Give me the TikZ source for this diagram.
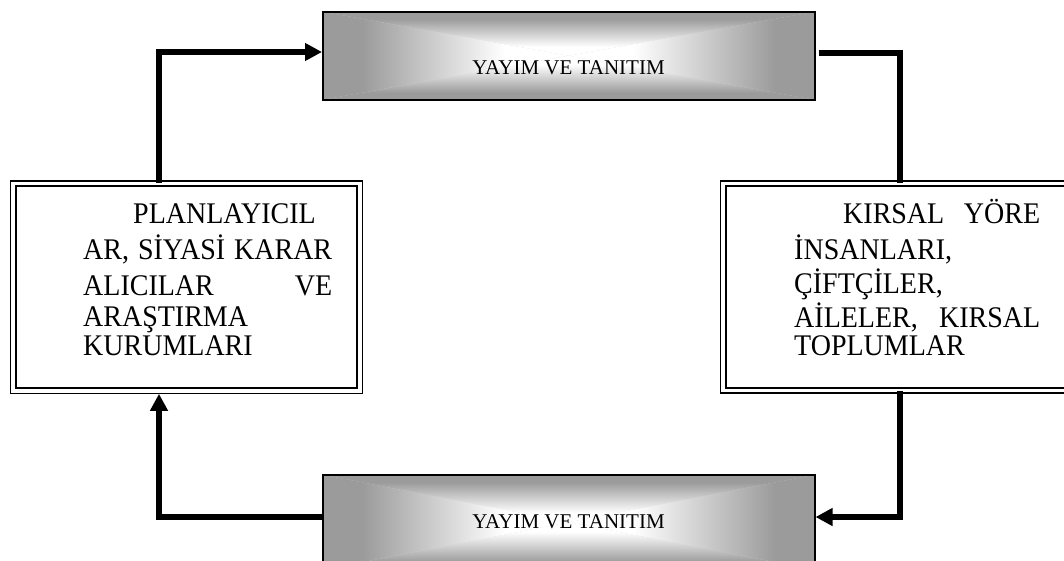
\documentclass[tikz,border=0pt]{standalone}
\usepackage{fontspec}
\setmainfont{Liberation Serif}
\usetikzlibrary{arrows.meta}
\definecolor{boxgray}{RGB}{155,155,155}
\pgfdeclarehorizontalshading{gl}{100bp}{color(0bp)=(boxgray); color(25bp)=(boxgray); color(33bp)=(boxgray); color(62bp)=(white); color(100bp)=(white)}
\pgfdeclarehorizontalshading{gr}{100bp}{color(0bp)=(white); color(38bp)=(white); color(67bp)=(boxgray); color(75bp)=(boxgray); color(100bp)=(boxgray)}
\pgfdeclareverticalshading{gt}{100bp}{color(0bp)=(white); color(35bp)=(white); color(67bp)=(boxgray); color(75bp)=(boxgray); color(100bp)=(boxgray)}
\pgfdeclareverticalshading{gb}{100bp}{color(0bp)=(boxgray); color(25bp)=(boxgray); color(33bp)=(boxgray); color(65bp)=(white); color(100bp)=(white)}
\newcommand{\vstretch}[1]{\scalebox{1}[1.07]{#1}}
\begin{document}
\begin{tikzpicture}[x=1pt,y=-1pt,
  conn/.style={line width=5.5pt, line join=miter},
  arr/.style={conn, -{Triangle[length=17pt,width=17pt]}},
  gbox/.style={draw, line width=1.5pt, inner sep=0pt, anchor=north west,
    path picture={
      \coordinate (pnw) at (path picture bounding box.north west);
      \coordinate (pne) at (path picture bounding box.north east);
      \coordinate (psw) at (path picture bounding box.south west);
      \coordinate (pse) at (path picture bounding box.south east);
      \coordinate (pc) at (path picture bounding box.center);
      \fill[boxgray!45!white] (pnw) rectangle (pse);
      \shade[shading=gt] (pnw) -- (pne) -- (pc) -- cycle;
      \shade[shading=gb] (psw) -- (pse) -- (pc) -- cycle;
      \shade[shading=gl] (pnw) -- (psw) -- (pc) -- cycle;
      \shade[shading=gr] (pne) -- (pse) -- (pc) -- cycle;
    }},
  dbox/.style={draw, line width=1.8pt, double, double distance=3.5pt, inner sep=0pt, anchor=north west, fill=white},
  yt/.style={font=\fontsize{21}{24}\selectfont, inner sep=0pt, anchor=base},
  bt/.style={font=\fontsize{28}{30}\selectfont, inner sep=0pt, anchor=base west}]
\useasboundingbox (0,0) rectangle (1064,560);
\clip (0,0) rectangle (1064,560);

% boxes
\node[gbox, minimum width=492pt, minimum height=88pt] (T) at (322,11) {};
\node[gbox, minimum width=492pt, minimum height=95pt] (B) at (322,474) {};
\node[dbox, minimum width=346.8pt, minimum height=207.5pt] (L) at (12.2,182.5) {};
\node[dbox, minimum width=360pt, minimum height=207pt] (R) at (722.3,182.5) {};

% texts
\node[yt] (Tt) at (568.5,74) {YAYIM VE TANITIM};
\node[yt] (Bt) at (568.5,528) {YAYIM VE TANITIM};

\node[bt] (L1) at (133,223) {\vstretch{PLANLAYICIL}};
\node[bt] (L2) at (83,259) {\vstretch{\makebox[249pt][s]{AR, SİYASİ KARAR}}};
\node[bt] (L3) at (83,295) {\vstretch{\makebox[249pt][s]{ALICILAR VE}}};
\node[bt] (L4) at (83,326) {\vstretch{ARAŞTIRMA}};
\node[bt] (L5) at (83,355) {\vstretch{KURUMLARI}};

\node[bt] (R1) at (843,223) {\vstretch{\makebox[197pt][s]{KIRSAL YÖRE}}};
\node[bt] (R2) at (794,259) {\vstretch{İNSANLARI,}};
\node[bt] (R3) at (794,293) {\vstretch{ÇİFTÇİLER,}};
\node[bt] (R4) at (794,327) {\vstretch{\makebox[246pt][s]{AİLELER, KIRSAL}}};
\node[bt] (R5) at (794,355) {\vstretch{TOPLUMLAR}};

% connectors
\coordinate (lc) at (159,52);
\coordinate (rc) at (900,53);
\coordinate (bc) at (900,517);
\coordinate (blc) at (159,517);
\draw[arr] (L.north -| lc) |- (T.west |- lc);
\draw[conn, shorten <=3pt] (T.east |- rc) -| (R.north -| rc);
\draw[arr] (R.south -| rc) |- (B.east |- bc);
\draw[arr, shorten >=2pt] (B.west |- blc) -| (L.south -| blc);
\end{tikzpicture}
\end{document}
